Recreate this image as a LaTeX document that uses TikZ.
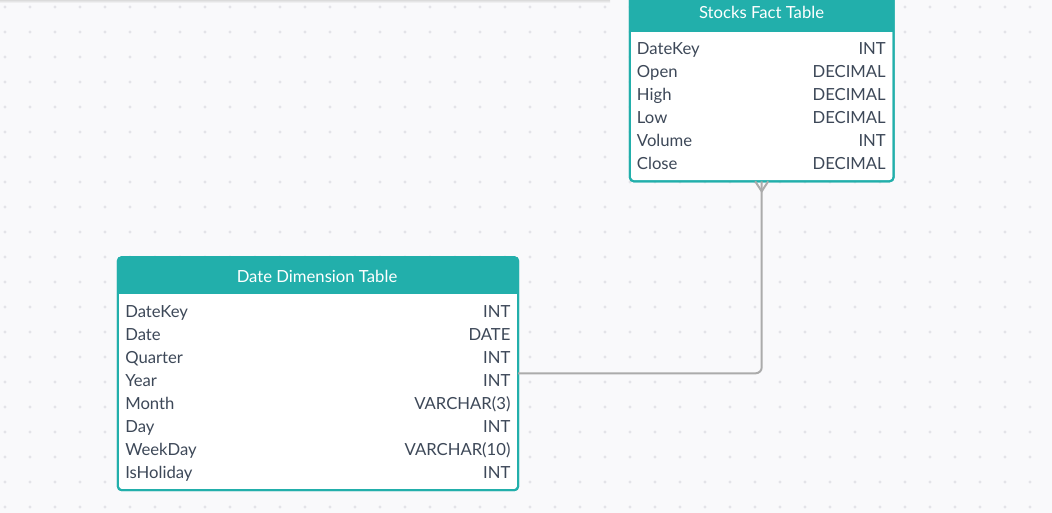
\documentclass[tikz,border=0pt]{standalone}
\usepackage{fontspec}
\setmainfont{Lato}
\usetikzlibrary{calc}
\definecolor{teal1}{HTML}{22AFAB}
\definecolor{txt}{HTML}{3D4858}
\definecolor{bgc}{HTML}{F9F9FB}
\definecolor{dotc}{HTML}{E3E3E8}
\definecolor{conn}{HTML}{ABABAB}
\begin{document}
\begin{tikzpicture}[x=0.75pt,y=-0.75pt,
  tbl/.style={draw=teal1, fill=white, line width=1.5pt, rounded corners=3pt, inner sep=0pt, outer sep=0pt},
  hdr/.style={font=\fontsize{12.5}{15}\selectfont, text=white, anchor=base, inner sep=0pt},
  fname/.style={font=\fontsize{12.5}{15}\selectfont, text=txt, anchor=base west, inner sep=0pt},
  ftype/.style={font=\fontsize{12.5}{15}\selectfont, text=txt, anchor=base east, inner sep=0pt},
  link/.style={draw=conn, line width=1.5pt, rounded corners=4.5pt}]
% background
\fill[bgc] (0,0) rectangle (1052,513);
\useasboundingbox (0,0) rectangle (1052,513);
\shade[top color=black!14, bottom color=bgc] (0,0) rectangle (610,3);
\foreach \i in {0,...,42} {
  \foreach \j in {0,...,20} {
    \fill[dotc] (5+25*\i, 7+25*\j) circle (1.2pt);
  }
}
% Stocks Fact Table
\node[tbl, minimum width=197.8pt, minimum height=140pt] (stocks) at (761.7,88) {};
\fill[teal1, rounded corners=3pt] (stocks.north west) rectangle (stocks.east |- 0,26);
\fill[teal1] (629.3,20) rectangle (894.1,32);
\draw[teal1, line width=1.5pt, rounded corners=3pt] (stocks.north west) rectangle (stocks.south east);
\node[hdr] (stitle) at (761.5,19) {Stocks Fact Table};
\node[fname] (s1) at (636.7,54.7) {DateKey};   \node[ftype] (s1t) at (886,54.7) {INT};
\node[fname] (s2) at (636.7,77.7) {Open};      \node[ftype] (s2t) at (886,77.7) {DECIMAL};
\node[fname] (s3) at (636.7,100.7) {High};     \node[ftype] (s3t) at (886,100.7) {DECIMAL};
\node[fname] (s4) at (636.7,123.7) {Low};      \node[ftype] (s4t) at (886,123.7) {DECIMAL};
\node[fname] (s5) at (636.7,146.7) {Volume};   \node[ftype] (s5t) at (886,146.7) {INT};
\node[fname] (s6) at (636.7,169.7) {Close};    \node[ftype] (s6t) at (886,169.7) {DECIMAL};
% Date Dimension Table
\node[tbl, minimum width=300.3pt, minimum height=174.8pt] (date) at (318,373.7) {};
\fill[teal1, rounded corners=3pt] (date.north west) rectangle (date.east |- 0,288);
\fill[teal1] (117.3,282) rectangle (518.7,294);
\draw[teal1, line width=1.5pt, rounded corners=3pt] (date.north west) rectangle (date.south east);
\node[hdr] (dtitle) at (317,282.3) {Date Dimension Table};
\node[fname] (d1) at (125,317.5) {DateKey};    \node[ftype] (d1t) at (510.7,317.5) {INT};
\node[fname] (d2) at (125,340.5) {Date};       \node[ftype] (d2t) at (510.7,340.5) {DATE};
\node[fname] (d3) at (125,363.5) {Quarter};    \node[ftype] (d3t) at (510.7,363.5) {INT};
\node[fname] (d4) at (125,386.5) {Year};       \node[ftype] (d4t) at (510.7,386.5) {INT};
\node[fname] (d5) at (125,409.5) {Month};      \node[ftype] (d5t) at (510.7,409.5) {VARCHAR(3)};
\node[fname] (d6) at (125,432.5) {Day};        \node[ftype] (d6t) at (510.7,432.5) {INT};
\node[fname] (d7) at (125,455.5) {WeekDay};    \node[ftype] (d7t) at (510.7,455.5) {VARCHAR(10)};
\node[fname] (d8) at (125,478.5) {IsHoliday};  \node[ftype] (d8t) at (510.7,478.5) {INT};
% connector
\coordinate (bend) at (761.7,373.3);
\draw[link] (date.east |- bend) -- (bend) -- (stocks.south);
\draw[draw=conn, line width=1.5pt] ($(stocks.south)+(-6.5,0)$) -- ($(stocks.south)+(0,10)$) -- ($(stocks.south)+(6.5,0)$);
\end{tikzpicture}
\end{document}
